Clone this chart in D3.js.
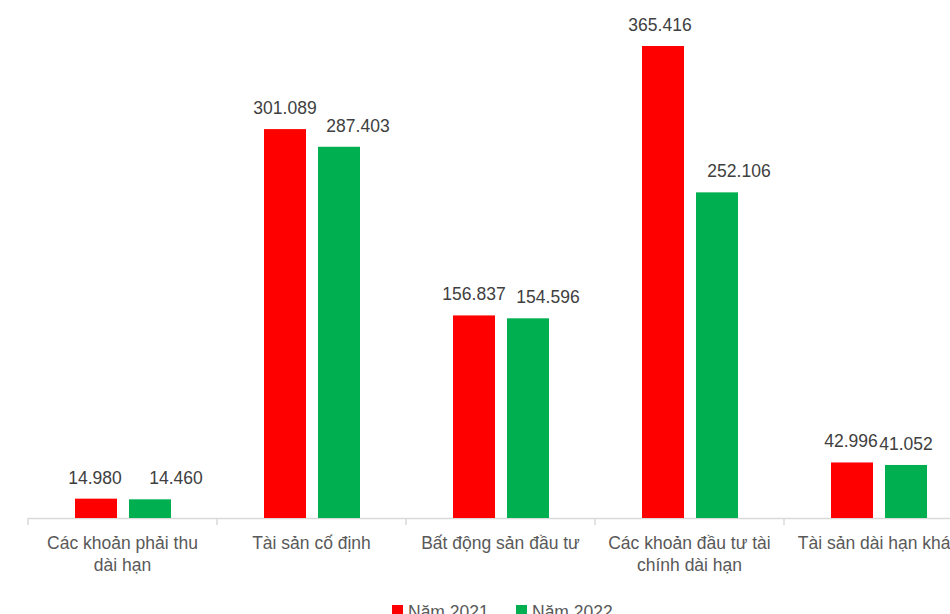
<!DOCTYPE html>
<html><head><meta charset="utf-8">
<script src="https://cdn.jsdelivr.net/npm/d3@7"></script>
<style>html,body{margin:0;padding:0;background:#fff;overflow:hidden}</style>
</head><body>
<svg id="c" width="950" height="614"></svg>
<script>
const categories = [["Các khoản phải thu","dài hạn"],["Tài sản cố định"],["Bất động sản đầu tư"],["Các khoản đầu tư tài","chính dài hạn"],["Tài sản dài hạn khác"]];
const series = ["Năm 2021","Năm 2022"];
const values2021 = [14.980, 301.089, 156.837, 365.416, 42.996];
const values2022 = [14.460, 287.403, 154.596, 252.106, 41.052];
const colors = ["#FF0000","#00B050"];
// label horizontal nudges (style only)
const labelDx2022 = [26, 19, 20, 22, 0];
const labelDx2021 = [-1, 0, 0, -3, -1];

const svg = d3.select("#c");
const font = "Liberation Sans, Arial, sans-serif";
const fs = 17.5;
const base = 518;
const x = d3.scaleBand().domain(d3.range(categories.length)).range([28, 973]);
const y = d3.scaleLinear().domain([0, 365.416]).range([base, 46]);
const inner = d3.scaleBand().domain([0,1]).range([47, 143]).paddingInner(12/54);
const fmt = v => d3.format(".3f")(v);

svg.append("line").attr("x1",28).attr("x2",950).attr("y1",base+0.5).attr("y2",base+0.5).attr("stroke","#d9d9d9").attr("stroke-width",1.5);
d3.range(categories.length+1).forEach(i=>{
  const xx = x.range()[0] + i*x.step();
  svg.append("line").attr("x1",xx).attr("x2",xx).attr("y1",base).attr("y2",base+7).attr("stroke","#d9d9d9").attr("stroke-width",1.5);
});

const data = categories.map((c,i)=>[
  {v:values2021[i], dx:labelDx2021[i]},
  {v:values2022[i], dx:labelDx2022[i]}
]);
const groups = svg.append("g").selectAll("g").data(data).join("g")
  .attr("transform",(d,i)=>`translate(${x(i)},0)`);
groups.selectAll("rect").data(d=>d).join("rect")
  .attr("x",(d,j)=>inner(j)).attr("width",inner.bandwidth())
  .attr("y",d=>y(d.v)).attr("height",d=>base-y(d.v))
  .attr("fill",(d,j)=>colors[j]);
groups.selectAll("text").data(d=>d).join("text")
  .attr("x",(d,j)=>inner(j)+inner.bandwidth()/2+d.dx)
  .attr("y",d=>y(d.v)-15)
  .attr("text-anchor","middle").attr("font-family",font).attr("font-size",fs).attr("fill","#404040")
  .text(d=>fmt(d.v));

categories.forEach((lines,i)=>{
  const t = svg.append("text").attr("text-anchor","middle").attr("font-family",font).attr("font-size",fs).attr("fill","#595959");
  lines.forEach((l,k)=>{
    t.append("tspan").attr("x", x(i)+x.bandwidth()/2).attr("y", 549 + k*22).text(l);
  });
});

const lg = [392, 516];
series.forEach((s,i)=>{
  svg.append("rect").attr("x",lg[i]).attr("y",605).attr("width",11).attr("height",11).attr("fill",colors[i]);
  svg.append("text").attr("x",lg[i]+16).attr("y",618).attr("font-family",font).attr("font-size",fs).attr("fill","#595959").text(s);
});
</script>
</body></html>
